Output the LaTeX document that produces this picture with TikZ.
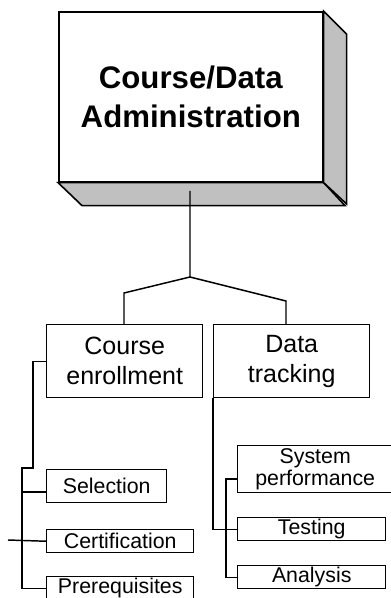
\documentclass[tikz,border=0pt]{standalone}
\usepackage{fontspec}
\setmainfont{Liberation Sans}
\definecolor{shade}{RGB}{192,192,192}
\tikzset{
    bigbox/.style={rectangle,draw,line width=1.2pt,fill=white,anchor=north west,inner sep=0pt,align=center,minimum width=198pt,minimum height=127.5pt,font=\fontsize{23.4}{29.6}\selectfont\bfseries},
    midbox/.style={rectangle,draw,line width=1.1pt,anchor=north west,inner sep=0pt,align=center,minimum width=117pt,minimum height=54.75pt,font=\fontsize{18.75}{22.5}\selectfont},
    leafbox/.style={rectangle,draw,line width=1.1pt,anchor=north west,inner sep=0pt,align=center,minimum height=17.25pt,font=\fontsize{16}{17}\selectfont},
    side/.style={draw,line width=1.2pt,fill=shade,line join=miter},
    link/.style={-,line width=1.1pt}
}
\begin{document}
\begin{tikzpicture}[x=0.75pt,y=-0.75pt]

                \useasboundingbox (0,0) rectangle (391,598);

                \node[bigbox]  (admin)   at (58,11)   {Course/Data\\Administration};
                \draw[side] (admin.south west) -- ++(24,23) -- ++(263,0) -- (admin.south east) -- cycle;
                \draw[side] (admin.north east) -- ++(23,23) -- ++(0,170) -- (admin.south east) -- cycle;

                \node[midbox]  (enroll)  at (46,324)  {Course\\enrollment};
                \node[midbox]  (data)    at (213,324) {Data\\tracking};

                \node[leafbox,minimum width=90pt,minimum height=24.75pt]    (sel)     at (46,469)  {Selection};
                \node[leafbox,minimum width=110.25pt]                       (cert)    at (46,529)  {Certification};
                \node[leafbox,minimum width=110.25pt]                       (prereq)  at (46,576)  {Prerequisites};

                \node[leafbox,minimum width=116.25pt,minimum height=35.25pt] (sysperf) at (237,445) {System\\performance};
                \node[leafbox,minimum width=111pt]                          (test)    at (237,517) {Testing};
                \node[leafbox,minimum width=111pt]                          (anal)    at (237,565) {Analysis};

                \coordinate (stem)   at (190,191);
                \coordinate (fork)   at (190,277);
                \coordinate (lknee)  at (124,293);
                \coordinate (rknee)  at (286,301);
                \draw[link] (stem) -- (fork) -- (lknee) -- (lknee |- enroll.north);
                \draw[link] (fork) -- (rknee) -- (rknee |- data.north);

                \coordinate (etrunk) at (33,468);
                \coordinate (espine) at (22,468);
                \coordinate (ejoin)  at (22,492);
                \coordinate (ctail)  at (8,540);
                \draw[link] (enroll.west) -| (etrunk) -- (espine) |- (prereq.west);
                \draw[link] (ejoin) -- (ejoin -| sel.west);
                \draw[link] (ctail) -- (cert.west);

                \coordinate (sjoin)  at (226,479);
                \draw[link] (data.south west) |- (test.west);
                \draw[link] (sjoin -| sysperf.west) -- (sjoin) |- (anal.west);

            \end{tikzpicture}
\end{document}
